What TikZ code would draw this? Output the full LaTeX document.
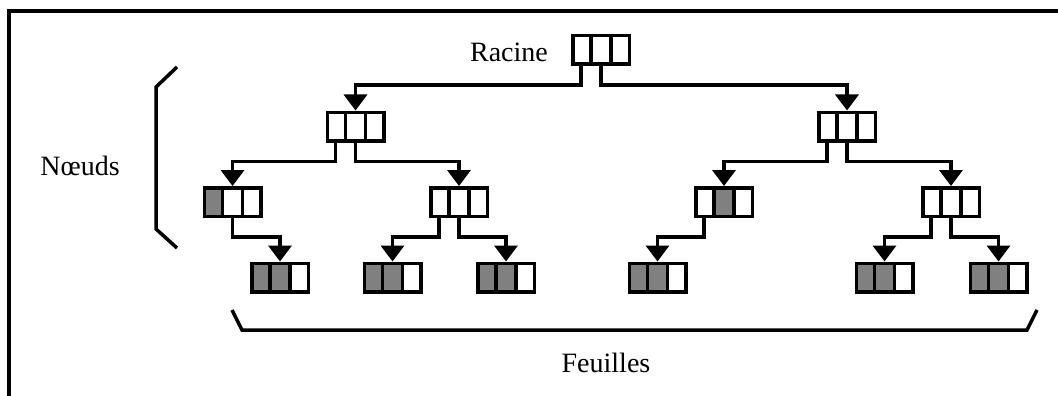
\documentclass[tikz,border=0pt]{standalone}
\usepackage{fontspec}
\setmainfont{Liberation Serif}
\usetikzlibrary{shapes.multipart,arrows.meta}
\definecolor{gris}{RGB}{128,128,128}
\newcommand{\casevide}{\makebox[16.5pt]{\rule[-14.25pt]{0pt}{28.5pt}}}
\newcommand{\troiscases}{\casevide\nodepart{two}\casevide\nodepart{three}\casevide}

\begin{document}
\begin{tikzpicture}[x=1pt,y=-1pt,
  cellule/.style={rectangle split, rectangle split horizontal, rectangle split parts=3, draw, line width=3.5pt, inner sep=0pt, rectangle split part fill={white}},
  feuille/.style={cellule, rectangle split part fill={gris,gris,white}},
  fleche/.style={line width=3.5pt, -{Triangle[width=23pt,length=16pt]}},
  trait/.style={line width=3.5pt},
  texte/.style={font=\fontsize{28}{32}\selectfont, inner sep=0pt}]
 \useasboundingbox (0,0) rectangle (1058,396);
 \draw[trait] (9,400) -- (9,11) -- (1062,11);

  \node[cellule] (racine) at (601,50) {\troiscases};
  \node[texte] (racinelbl) at (509,52.5) {Racine};

  \node[cellule] (g) at (355.5,126.5) {\troiscases};
  \node[cellule] (d) at (847,126.5) {\troiscases};

  \node[cellule, rectangle split part fill={gris,white,white}] (gg) at (232.5,202) {\troiscases};
  \node[cellule] (gd) at (459,202) {\troiscases};
  \node[cellule, rectangle split part fill={white,gris,white}] (dg) at (724,202) {\troiscases};
  \node[cellule] (dd) at (951,202) {\troiscases};

  \node[feuille] (f1) at (280,277.5) {\troiscases};
  \node[feuille] (f2) at (392.5,277.5) {\troiscases};
  \node[feuille] (f3) at (506,277.5) {\troiscases};
  \node[feuille] (f4) at (657.5,277.5) {\troiscases};
  \node[feuille] (f5) at (884.5,277.5) {\troiscases};
  \node[feuille] (f6) at (998.5,277.5) {\troiscases};

  \draw[fleche] (racine.one south) -- ++(0,19) -| (g.north);
  \draw[fleche] (racine.two south) -- ++(0,19) -| (d.north);
  \draw[fleche] (g.one south) -- ++(0,19) -| (gg.north);
  \draw[fleche] (g.two south) -- ++(0,19) -| (gd.north);
  \draw[fleche] (d.one south) -- ++(0,19) -| (dg.north);
  \draw[fleche] (d.two south) -- ++(0,19) -| (dd.north);
  \draw[fleche] (gg.two south) -- ++(0,19) -| (f1.north);
  \draw[fleche] (gd.one south) -- ++(0,19) -| (f2.north);
  \draw[fleche] (gd.two south) -- ++(0,19) -| (f3.north);
  \draw[fleche] (dg.one south) -- ++(0,19) -| (f4.north);
  \draw[fleche] (dd.one south) -- ++(0,19) -| (f5.north);
  \draw[fleche] (dd.two south) -- ++(0,19) -| (f6.north);

  \draw[trait] (177,67) -- (156,87) -- (156,229) -- (177,248);
  \node[texte] (noeudslbl) at (80,166) {Nœuds};

  \draw[trait] (232,310) -- (242,330) -- (1027,330) -- (1037,310);
  \node[texte] (feuilleslbl) at (606,363) {Feuilles};
\end{tikzpicture}
\end{document}
